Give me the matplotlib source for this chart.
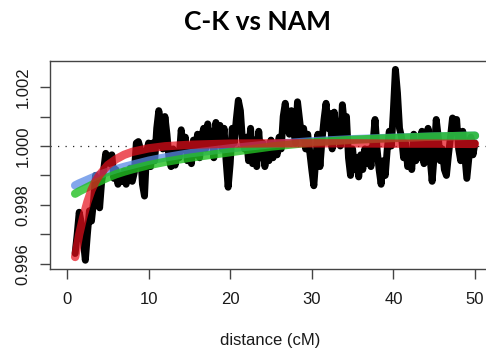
import numpy as np
import matplotlib
matplotlib.use("Agg")
import matplotlib.pyplot as plt

# ---------------- data ----------------
title = "C-K vs NAM"
xlabel = "distance (cM)"

# observed ratio (black), sampled every 0.25 cM from 1 to 50
obs_x_start, obs_x_step = 1.0, 0.25
obs_y = [
    0.99635, 0.99700, 0.99775, 0.99740, 0.99680, 0.99612, 0.99700, 0.99780, 0.99745, 0.99810,
    0.99900, 0.99850, 0.99790, 0.99880, 0.99920, 0.99975, 0.99960, 0.99940, 0.99970, 0.99890,
    0.99920, 0.99870, 0.99900, 0.99880, 0.99915, 0.99870, 0.99900, 0.99925, 0.99880, 0.99910,
    1.00010, 1.00015, 0.99990, 0.99870, 0.99830, 0.99980, 1.00010,
    0.99930, 1.00010, 0.99950, 1.00060, 1.00120, 1.00080, 0.99990, 1.00100, 1.00040, 0.99960,
    0.99930, 0.99990, 0.99935, 0.99980, 0.99960, 1.00055, 0.99990, 1.00030, 0.99950, 1.00000,
    0.99940, 1.00020, 0.99970, 1.00040, 0.99960, 1.00030, 1.00060, 0.99990, 1.00075, 1.00010,
    1.00050, 0.99960, 1.00080, 1.00020, 1.00070, 0.99990, 1.00060, 0.99950, 0.99860, 0.99940,
    1.00060, 1.00010, 1.00090, 1.00155, 1.00120, 1.00020, 0.99990,
    1.00030, 0.99950, 1.00060, 0.99940, 1.00020, 0.99930, 1.00050, 0.99960, 1.00010, 0.99930,
    0.99990, 0.99950, 1.00020, 0.99960, 1.00000, 0.99970, 1.00030, 0.99990, 1.00100, 1.00145,
    1.00080, 1.00040, 1.00120, 1.00060, 1.00010, 1.00150, 1.00090, 1.00030, 1.00060, 0.99990,
    1.00040, 0.99980, 0.99920, 0.99865, 0.99960, 1.00040, 0.99930,
    1.00020, 1.00090, 1.00145, 1.00060, 1.00110, 0.99990, 1.00115, 1.00030, 1.00080, 1.00000,
    1.00140, 1.00070, 1.00100, 0.99960, 0.99900, 0.99990, 0.99920, 0.99960, 0.99895, 0.99970,
    0.99920, 0.99990, 0.99940, 0.99990, 0.99930, 1.00010, 1.00090, 0.99990, 0.99920, 0.99870,
    0.99950, 0.99900, 0.99990, 1.00050, 1.00000, 1.00120, 1.00260, 1.00180, 1.00060, 1.00030,
    0.99960, 1.00010, 0.99930, 0.99970, 0.99920, 1.00040, 0.99950, 1.00010, 0.99960, 1.00050,
    0.99940, 0.99990, 1.00060, 0.99960, 0.99880, 0.99970, 1.00090, 1.00030, 0.99950, 0.99990,
    0.99920, 0.99900, 0.99970, 1.00030, 1.00095, 1.00060, 1.00090, 0.99990, 0.99950, 1.00050,
    0.99970, 0.99890, 0.99960, 1.00030, 0.99970, 1.00010,
]

# fitted curves
fit_x = [1, 1.5, 2, 2.5, 3, 3.5, 4, 5, 6, 7, 8, 10, 12, 15, 20, 25, 30, 35, 40, 45, 50]
red_y = [0.99623, 0.99700, 0.99759, 0.99810, 0.99850, 0.99880, 0.99902, 0.99935, 0.99955,
         0.99970, 0.99980, 0.99992, 0.99999, 1.00004, 1.00008, 1.00009, 1.00009, 1.00009,
         1.00008, 1.00008, 1.00007]
blue_y = [0.99866, 0.99873, 0.99879, 0.99885, 0.99891, 0.99897, 0.99902, 0.99912, 0.99921,
          0.99929, 0.99936, 0.99950, 0.99961, 0.99975, 0.99992, 1.00006, 1.00016, 1.00023,
          1.00028, 1.00032, 1.00035]
green_y = [0.99838, 0.99846, 0.99853, 0.99860, 0.99867, 0.99874, 0.99880, 0.99893, 0.99904,
           0.99913, 0.99921, 0.99935, 0.99946, 0.99960, 0.99979, 0.99998, 1.00012, 1.00021,
           1.00027, 1.00032, 1.00035]

xticks = [0, 10, 20, 30, 40, 50]
yticks_major = [0.996, 0.998, 1.000, 1.002]
yticks_minor = [0.997, 0.999, 1.001]

# ---------------- figure ----------------
W, H, DPI = 486, 353, 100
fig = plt.figure(figsize=(W / DPI, H / DPI), dpi=DPI)
plt.rcParams['font.family'] = ['Liberation Sans', 'DejaVu Sans']

ax = fig.add_axes([50 / W, 1 - 269 / H, (W - 50) / W, (269 - 61) / H])

obs_x = obs_x_start + obs_x_step * np.arange(len(obs_y))
ax.axhline(1.0, color='#222222', lw=0.9, ls=(0, (1, 5)), zorder=1)
ax.plot(obs_x, obs_y, color='black', lw=5.0, solid_capstyle='round',
        solid_joinstyle='round', zorder=2)
ax.plot(fit_x, blue_y, color='#5A8AE6', alpha=0.75, lw=6.0, solid_capstyle='round', zorder=3)
ax.plot(fit_x, green_y, color='#22C022', alpha=0.8, lw=6.0, solid_capstyle='round', zorder=4)
ax.plot(fit_x, red_y, color='#E60D1A', alpha=0.7, lw=6.0, solid_capstyle='round', zorder=5)

ax.set_xlim(-2.08, 51.35)
ax.set_ylim(0.995823, 1.002886)

ax.spines['right'].set_visible(False)
for s in ['left', 'top', 'bottom']:
    ax.spines[s].set_color('#444444')
    ax.spines[s].set_linewidth(1.0)

ax.set_xticks(xticks)
ax.set_xticklabels([str(t) for t in xticks])
ax.set_yticks(yticks_major + yticks_minor)
ax.set_yticklabels(["%.3f" % t for t in yticks_major] + [""] * len(yticks_minor))
for lab in ax.get_yticklabels():
    lab.set_rotation(90)
    lab.set_va('center')
ax.tick_params(axis='both', direction='out', length=7.2, width=1.0, color='#444444',
               labelsize=12, labelcolor='#1a1a1a')
ax.tick_params(axis='x', pad=9)
ax.tick_params(axis='y', pad=7)

fig.text(270 / W, 1 - 340 / H, xlabel, ha='center', va='center', fontsize=12, color='#1a1a1a')
fig.text(257 / W, 1 - 22 / H, title, ha='center', va='center', fontsize=19,
         fontweight='bold', family=['Lato', 'DejaVu Sans'], color='black')

fig.savefig('out.png', dpi=DPI)
